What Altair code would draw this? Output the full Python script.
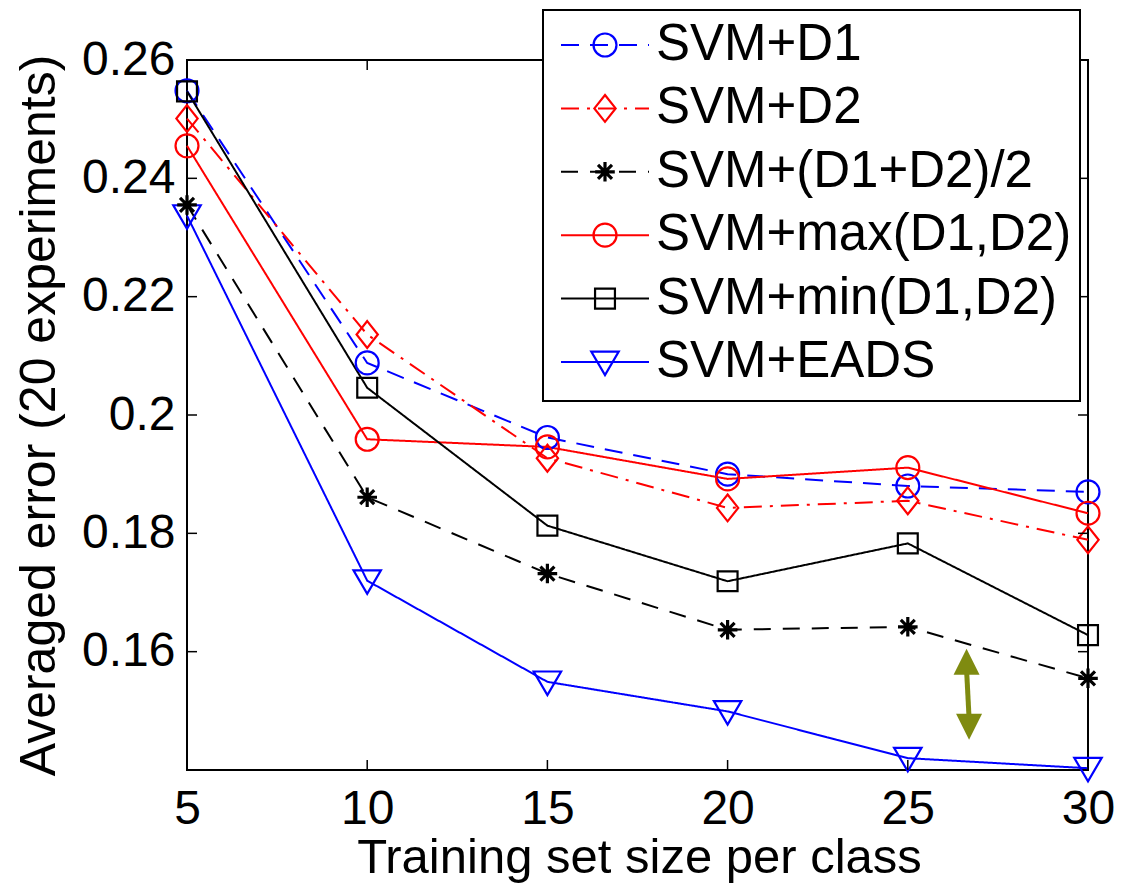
import altair as alt
import pandas as pd

# ---------------- data ----------------
sizes = [5, 10, 15, 20, 25, 30]
series_names = ["SVM+D1", "SVM+D2", "SVM+(D1+D2)/2", "SVM+max(D1,D2)", "SVM+min(D1,D2)", "SVM+EADS"]
err_d1 = [0.2548, 0.2088, 0.1962, 0.1900, 0.1880, 0.1870]
err_d2 = [0.2501, 0.2136, 0.1927, 0.1843, 0.1855, 0.1789]
err_avg = [0.2355, 0.1861, 0.1732, 0.1637, 0.1642, 0.1555]
err_max = [0.2455, 0.1959, 0.1946, 0.1892, 0.1911, 0.1834]
err_min = [0.2547, 0.2046, 0.1813, 0.1719, 0.1783, 0.1628]
err_eads = [0.2337, 0.1720, 0.1549, 0.1499, 0.1420, 0.1403]

x_ticks = [5, 10, 15, 20, 25, 30]
y_ticks = [0.16, 0.18, 0.20, 0.22, 0.24, 0.26]
x_domain = [5, 30]
y_domain = [0.14, 0.26]

# annotation arrow (olive double arrow)
arrow_x = [26.63, 26.70]
arrow_tip = [0.1605, 0.1451]
arrow_shaft = [0.1570, 0.1488]

# ---------------- styles ----------------
FONT = "Liberation Sans"
colors = ["#0000ff", "#ff0000", "#000000", "#ff0000", "#000000", "#0000ff"]
dashes = [[18, 11], [18, 8, 3, 8], [17, 12], [1, 0], [1, 0], [1, 0]]
# all marker paths are drawn with one symbol size (half-extent 14 px) and scaled inside the path
circle_p = "M0.82,0A0.82,0.82,0,1,1,-0.82,0A0.82,0.82,0,1,1,0.82,0Z"
diamond_p = "M0,-0.96L0.76,0L0,0.96L-0.76,0Z"
asterisk_p = "M-0.7,0L0.7,0M0,-0.7L0,0.7M-0.5,-0.5L0.5,0.5M-0.5,0.5L0.5,-0.5"
square_p = "M-0.71,-0.71L0.71,-0.71L0.71,0.71L-0.71,0.71Z"
tri_p = "M-0.98,-0.74L0.98,-0.74L0,0.94Z"
shapes = [circle_p, diamond_p, asterisk_p, circle_p, square_p, tri_p]
MSIZE = 784
OLIVE = "#7f8b10"
ASTERISK_SERIES = series_names[2]

series_values = [err_d1, err_d2, err_avg, err_max, err_min, err_eads]
rows = []
for name, vals in zip(series_names, series_values):
    for s, v in zip(sizes, vals):
        rows.append({"series": name, "size": s, "err": v})
df = pd.DataFrame(rows)

xscale = alt.Scale(domain=x_domain, nice=False, zero=False)
yscale = alt.Scale(domain=y_domain, nice=False, zero=False)
xaxis = alt.Axis(values=x_ticks, labelFontSize=48, labelPadding=15, labelFlush=False,
                 title="Training set size per class", titleFontSize=49,
                 titleY=102, titleX=452, titleAlign="center", titleBaseline="alphabetic")
yaxis = alt.Axis(values=y_ticks, format=".2~f", labelFontSize=48, labelPadding=12, labelFlush=False,
                 title="Averaged error (20 experiments)", titleFontSize=50, titleAngle=270,
                 titleX=-133, titleY=355, titleAlign="center", titleBaseline="alphabetic")

X = alt.X("size:Q", scale=xscale, axis=xaxis)
Y = alt.Y("err:Q", scale=yscale, axis=yaxis)

color = alt.Color("series:N", scale=alt.Scale(domain=series_names, range=colors), legend=None)
dash = alt.StrokeDash("series:N", scale=alt.Scale(domain=series_names, range=dashes), legend=None)
shape = alt.Shape("series:N", scale=alt.Scale(domain=series_names, range=shapes), legend=None)

lines = alt.Chart(df).mark_line(strokeWidth=2).encode(x=X, y=Y, color=color, strokeDash=dash,
                                                      detail="series:N")
points = alt.Chart(df).transform_filter(alt.datum.series != ASTERISK_SERIES).mark_point(
    filled=False, opacity=1, size=MSIZE, strokeWidth=2.2).encode(x=X, y=Y, color=color, shape=shape)
stars = alt.Chart(df).transform_filter(alt.datum.series == ASTERISK_SERIES).mark_point(
    filled=False, opacity=1, size=MSIZE, strokeWidth=3.2).encode(x=X, y=Y, color=color, shape=shape)

# inner (MATLAB-style) tick marks
xt_df = pd.DataFrame({"size": x_ticks})
yt_df = pd.DataFrame({"err": y_ticks})
xt_bottom = alt.Chart(xt_df).mark_rule(color="black", strokeWidth=1.5).encode(
    x=X, y=alt.value(710), y2=alt.value(700))
xt_top = alt.Chart(xt_df).mark_rule(color="black", strokeWidth=1.5).encode(
    x=X, y=alt.value(0), y2=alt.value(10))
yt_left = alt.Chart(yt_df).mark_rule(color="black", strokeWidth=1.5).encode(
    y=Y, x=alt.value(0), x2=alt.value(10))
yt_right = alt.Chart(yt_df).mark_rule(color="black", strokeWidth=1.5).encode(
    y=Y, x=alt.value(901), x2=alt.value(891))

# olive double arrow
shaft_df = pd.DataFrame({"size": [arrow_x[0]], "size2": [arrow_x[1]],
                         "err": [arrow_shaft[0]], "err2": [arrow_shaft[1]]})
shaft = alt.Chart(shaft_df).mark_rule(color=OLIVE, strokeWidth=5).encode(
    x=X, x2="size2:Q", y=Y, y2="err2:Q")
head_up = alt.Chart(pd.DataFrame({"size": [arrow_x[0]], "err": [arrow_tip[0]]})).mark_point(
    shape="M0,0L-1,2L1,2Z", filled=True, opacity=1, size=676, color=OLIVE).encode(x=X, y=Y)
head_down = alt.Chart(pd.DataFrame({"size": [arrow_x[1]], "err": [arrow_tip[1]]})).mark_point(
    shape="M0,0L-1,-2L1,-2Z", filled=True, opacity=1, size=676, color=OLIVE).encode(x=X, y=Y)

main = alt.layer(lines, points, stars, xt_bottom, xt_top, yt_left, yt_right, shaft, head_up, head_down)

# ---------------- custom legend ----------------
leg_df = pd.DataFrame({"row": list(range(len(series_names))), "series": series_names})
leg_y = alt.Y("row:Q", scale=alt.Scale(domain=[0, len(series_names) - 1], range=[-15, 302]), axis=None)
box = alt.Chart(pd.DataFrame({"a": [0]})).mark_rect(fill="white", stroke="black", strokeWidth=2).encode(
    x=alt.value(356), x2=alt.value(893), y=alt.value(-50), y2=alt.value(341))
leg_lines = alt.Chart(leg_df).mark_rule(strokeWidth=2).encode(
    x=alt.value(374), x2=alt.value(462), y=leg_y, color=color, strokeDash=dash)
leg_points = alt.Chart(leg_df).transform_filter(alt.datum.series != ASTERISK_SERIES).mark_point(
    filled=False, opacity=1, size=MSIZE, strokeWidth=2.2).encode(
    x=alt.value(418), y=leg_y, color=color, shape=shape)
leg_stars = alt.Chart(leg_df).transform_filter(alt.datum.series == ASTERISK_SERIES).mark_point(
    filled=False, opacity=1, size=MSIZE, strokeWidth=3.2).encode(
    x=alt.value(418), y=leg_y, color=color, shape=shape)
leg_text = alt.Chart(leg_df).mark_text(align="left", baseline="middle", fontSize=51, font=FONT,
                                       color="black").encode(
    x=alt.value(469), y=leg_y, text="series:N")
legend = alt.layer(box, leg_lines, leg_points, leg_stars, leg_text)

chart = alt.layer(main, legend).resolve_scale(y="independent").properties(
    width=901, height=710,
    autosize=alt.AutoSizeParams(type="none"),
    padding={"left": 179, "top": 52, "right": 30, "bottom": 116},
    background="white",
).configure_view(stroke="black", strokeWidth=2).configure_axis(
    labelFont=FONT, titleFont=FONT, labelColor="black", titleColor="black",
    grid=False, ticks=False, domain=False, titleFontWeight="normal",
)

chart.save("out.html", embed_options={"renderer": "svg", "actions": False})
